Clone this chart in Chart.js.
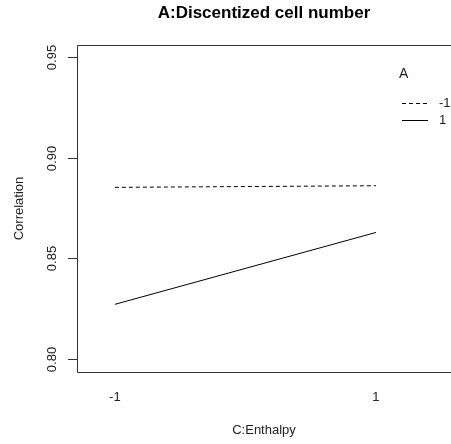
<!DOCTYPE html>
<html>
<head>
<meta charset="utf-8">
<script src="https://cdn.jsdelivr.net/npm/chart.js@4"></script>
<style>
  html, body { margin: 0; padding: 0; background: #fff; }
  #wrap { width: 451px; height: 444px; }
</style>
</head>
<body>
<div id="wrap"><canvas id="chart"></canvas></div>
<script>
// values
const enthalpy = [-1, 1];
const seriesNames = ['-1', '1'];
const corrMinus1 = [0.8853, 0.8861];
const corrPlus1 = [0.8272, 0.8629];
const yTicks = [0.80, 0.85, 0.90, 0.95];
const xTicks = [-1, 1];

const FONT = '"Liberation Sans", Arial, sans-serif';

// axes, box, titles and legend drawn R-style
const rStyle = {
    id: 'rStyle',
    afterDraw(chart) {
        const c = chart.ctx;
        const a = chart.chartArea;
        const xs = chart.scales.x, ys = chart.scales.y;
        c.save();
        // box (right side runs off the canvas)
        c.strokeStyle = '#333';
        c.lineWidth = 1;
        c.beginPath();
        c.moveTo(a.right + 5, a.top + 0.5);
        c.lineTo(a.left + 0.5, a.top + 0.5);
        c.lineTo(a.left + 0.5, a.bottom + 0.5);
        c.lineTo(a.right + 5, a.bottom + 0.5);
        c.stroke();

        // y ticks
        c.fillStyle = '#222';
        c.font = '13px ' + FONT;
        c.textAlign = 'center';
        c.textBaseline = 'middle';
        yTicks.forEach(v => {
            const y = Math.round(ys.getPixelForValue(v)) + 0.5;
            c.beginPath();
            c.moveTo(a.left - 9, y);
            c.lineTo(a.left, y);
            c.stroke();
            c.save();
            c.translate(a.left - 25, y);
            c.rotate(-Math.PI / 2);
            c.fillText(v.toFixed(2), 0, 0);
            c.restore();
        });

        // x tick labels (no tick marks)
        xTicks.forEach(v => {
            c.fillText(String(v), xs.getPixelForValue(v), a.bottom + 25);
        });

        // axis titles
        c.fillText('C:Enthalpy', (a.left + a.right) / 2, a.bottom + 58);
        c.save();
        c.translate(19, (a.top + a.bottom) / 2);
        c.rotate(-Math.PI / 2);
        c.fillText('Correlation', 0, 0);
        c.restore();

        // main title
        c.fillStyle = '#000';
        c.font = 'bold 17px ' + FONT;
        c.fillText('A:Discentized cell number', (a.left + a.right) / 2, 13);

        // legend
        c.fillStyle = '#222';
        c.font = '14px ' + FONT;
        c.textAlign = 'left';
        c.fillText('A', 399, 74);
        c.font = '13px ' + FONT;
        chart.data.datasets.forEach((ds, i) => {
            const y = 103.5 + i * 17;
            c.strokeStyle = '#000';
            c.setLineDash(ds.borderDash || []);
            c.beginPath();
            c.moveTo(402, y);
            c.lineTo(428, y);
            c.stroke();
            c.setLineDash([]);
            c.fillText(ds.label, 439, y);
        });
        c.restore();
    }
};

new Chart(document.getElementById('chart').getContext('2d'), {
    type: 'line',
    data: {
        datasets: [{
            label: seriesNames[0],
            data: enthalpy.map((x, i) => ({ x: x, y: corrMinus1[i] })),
            borderColor: '#000',
            borderWidth: 1,
            borderDash: [4, 3],
            pointRadius: 0,
            fill: false
        }, {
            label: seriesNames[1],
            data: enthalpy.map((x, i) => ({ x: x, y: corrPlus1[i] })),
            borderColor: '#000',
            borderWidth: 1,
            pointRadius: 0,
            fill: false
        }]
    },
    options: {
        responsive: true,
        maintainAspectRatio: false,
        animation: false,
        layout: { padding: { left: 77, top: 45, right: 0, bottom: 72 } },
        plugins: {
            legend: { display: false },
            tooltip: { enabled: false },
            title: { display: false }
        },
        scales: {
            x: { type: 'linear', display: false, min: -1.29, max: 1.575 },
            y: { type: 'linear', display: false, min: 0.7936, max: 0.956 }
        }
    },
    plugins: [rStyle]
});
</script>
</body>
</html>
